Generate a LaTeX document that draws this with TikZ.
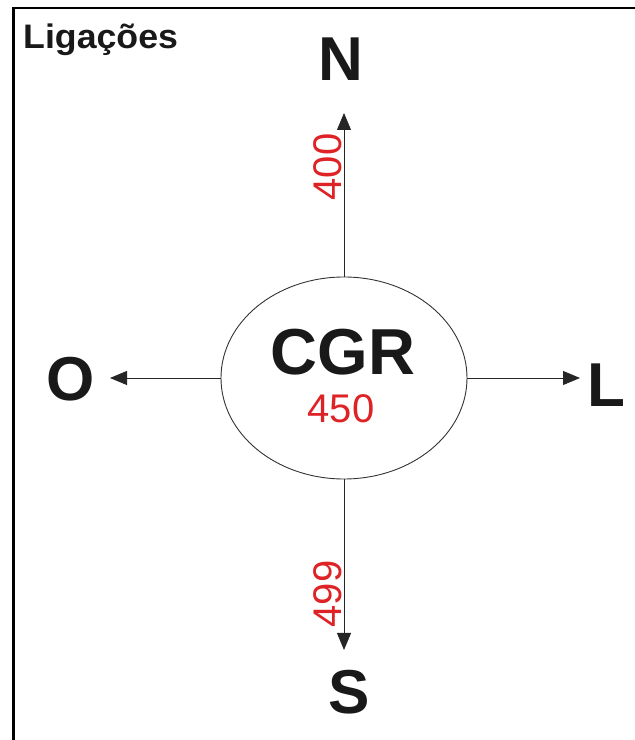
\documentclass[tikz,border=0pt]{standalone}
\usepackage{fontspec}
\setmainfont{Liberation Sans}
\usepackage{tikz}
\usetikzlibrary{positioning}
\usetikzlibrary{shapes.geometric, arrows.meta}
\definecolor{vermelho}{RGB}{222,35,38}
\tikzstyle{seta} = [line width=0.9pt,draw=black!85,-{Triangle[length=17pt,width=14pt]}]
\tikzstyle{ponto} = [font=\fontsize{62}{62}\selectfont\bfseries,text=black!90,inner sep=0pt]
\tikzstyle{valor} = [font=\fontsize{40}{40}\selectfont,text=vermelho,inner sep=2pt]

\begin{document}
\begin{tikzpicture}[x=1pt,y=1pt]
	\useasboundingbox (0,0) rectangle (635,740);
	
	%Moldura
	\draw[line width=2.6pt] (635,732) -- (13.5,732) -- (13.5,0);
	
	%Nodes
	\node [anchor=base west,inner sep=0pt,font=\fontsize{34}{34}\selectfont\bfseries,text=black!90] (titulo) at (23,691) {\scalebox{1.05}[1]{Ligações}};
	\node [ellipse,draw=black!80,line width=0.9pt,minimum width=246pt,minimum height=202pt,inner sep=0pt] (cgr) at (344,362) {};
	\node [anchor=base,inner sep=0pt,font=\fontsize{65}{65}\selectfont\bfseries,text=black!90] (sigla) at (343,365) {CGR};
	\node [valor,anchor=base,inner sep=0pt] (total) at (341,317) {450};
	
	\node [ponto] (n) at (341,680.5) {N};
	\node [ponto] (s) at (349,48) {S};
	\node [ponto] (o) at (71,360.5) {O};
	\node [ponto] (l) at (606,355) {L};
	
	\coordinate (pn) at (344,627);
	\coordinate (ps) at (344,90);
	\coordinate (po) at (110,362);
	\coordinate (pl) at (580,362);
	
	%Lines
	\draw [seta] (cgr.north) -- (pn);
	\draw [seta] (cgr.south) -- (ps);
	\draw [seta] (cgr.west) -- (po);
	\draw [seta] (cgr.east) -- (pl);
	
	\node [valor,rotate=90,anchor=south] (v400) at (344,573) {400};
	\node [valor,rotate=90,anchor=south] (v499) at (344,146) {499};
	
\end{tikzpicture}
\end{document}
